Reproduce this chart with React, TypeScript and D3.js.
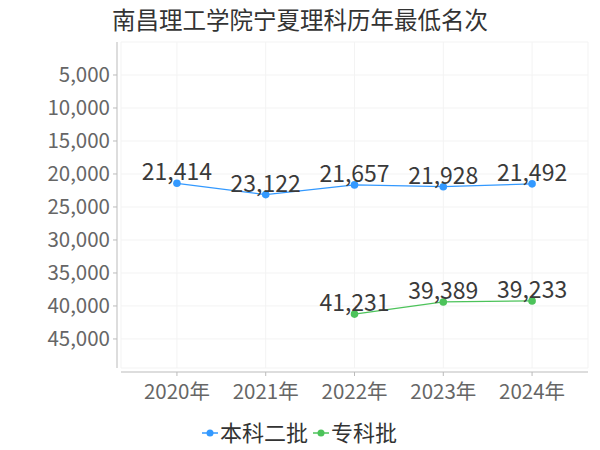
import React from 'react';
import { scaleLinear, scalePoint, line, format } from 'd3';

const years = ['2020年', '2021年', '2022年', '2023年', '2024年'];
const benke2 = [21414, 23122, 21657, 21928, 21492];
const zhuanke: (number | null)[] = [null, null, 41231, 39389, 39233];
const yTicks = [5000, 10000, 15000, 20000, 25000, 30000, 35000, 40000, 45000];

const series = [
  { name: '本科二批', color: '#3399ff', values: benke2 },
  { name: '专科批', color: '#4cc35a', values: zhuanke },
];

const font = '"Noto Sans CJK SC", "Noto Sans", sans-serif';

export default function App() {
  const width = 600, height = 450;
  const plot = { left: 121, right: 588, top: 42, bottom: 368 };

  const x = scalePoint<string>().domain(years).range([plot.left, plot.right]).padding(0.63);
  const y = scaleLinear().domain([0, 49400]).range([plot.top, plot.bottom]);
  const fmt = format(',');

  const gridX = [plot.left, ...years.map((d) => x(d) as number), plot.right];
  const gridY = [plot.top, ...yTicks.map((t) => y(t)), plot.bottom];

  return (
    <svg width={width} height={height} style={{ position: 'absolute', left: 0, top: 0, fontFamily: font }}>
      <text x={300} y={29} textAnchor="middle" fontSize={23.5} fill="#333">南昌理工学院宁夏理科历年最低名次</text>

      {/* grid */}
      <g stroke="#f3f3f3" strokeWidth={1}>
        {gridX.map((gx, i) => (
          <line key={'gx' + i} x1={gx} x2={gx} y1={plot.top} y2={plot.bottom} />
        ))}
        {gridY.map((gy, i) => (
          <line key={'gy' + i} x1={plot.left} x2={plot.right} y1={gy} y2={gy} />
        ))}
      </g>

      {/* y axis */}
      <g>
        <line x1={117} x2={117} y1={plot.top} y2={plot.bottom} stroke="#bbb" />
        {yTicks.map((t) => (
          <g key={t} transform={`translate(0,${y(t)})`}>
            <line x1={113} x2={117} stroke="#bbb" />
            <text x={110} dy="0.36em" textAnchor="end" fontSize={20.5} fill="#666">{fmt(t)}</text>
          </g>
        ))}
      </g>

      {/* x axis */}
      <g>
        <line x1={plot.left} x2={plot.right} y1={372} y2={372} stroke="#bbb" />
        {years.map((d) => (
          <g key={d} transform={`translate(${x(d)},0)`}>
            <line y1={372} y2={376} stroke="#bbb" />
            <text y={399} textAnchor="middle" fontSize={20.5} fill="#666">{d}</text>
          </g>
        ))}
      </g>

      {/* series */}
      {series.map((s) => {
        const pts = years
          .map((d, i) => ({ d, v: s.values[i] }))
          .filter((p) => p.v != null) as { d: string; v: number }[];
        const path = line<{ d: string; v: number }>()
          .x((p) => x(p.d) as number)
          .y((p) => y(p.v))(pts);
        return (
          <g key={s.name}>
            <path d={path ?? ''} fill="none" stroke={s.color} strokeWidth={1.2} />
            {pts.map((p) => (
              <circle key={p.d} cx={x(p.d)} cy={y(p.v)} r={3.8} fill={s.color} />
            ))}
            {pts.map((p) => (
              <text key={'l' + p.d} x={x(p.d)} y={y(p.v) - 3} textAnchor="middle" fontSize={23} fill="#3a3a3a">
                {fmt(p.v)}
              </text>
            ))}
          </g>
        );
      })}

      {/* legend */}
      <g transform="translate(202,433)">
        {series.map((s, i) => (
          <g key={s.name} transform={`translate(${i === 0 ? 0 : 111},0)`}>
            <line x1={0} x2={16} stroke={s.color} strokeWidth={1.5} />
            <circle cx={8} cy={0} r={3.5} fill={s.color} />
            <text x={18} dy="0.36em" fontSize={22} fill="#333">{s.name}</text>
          </g>
        ))}
      </g>
    </svg>
  );
}
